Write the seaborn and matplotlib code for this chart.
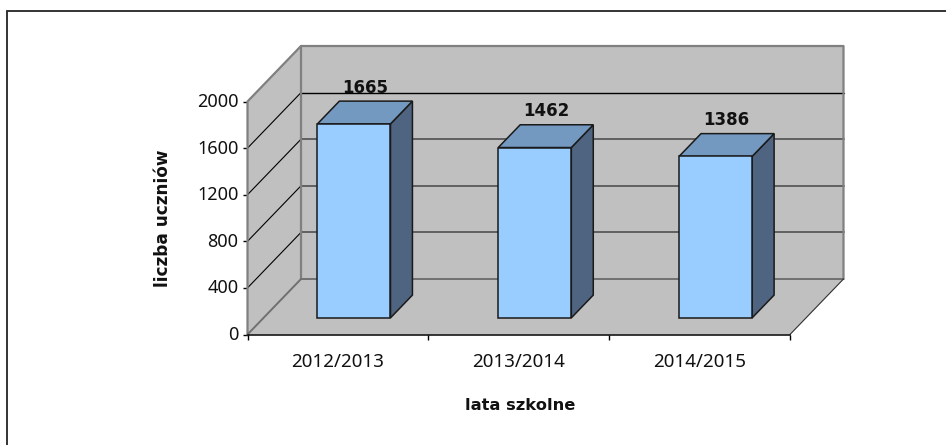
import matplotlib
matplotlib.use("Agg")
import matplotlib.pyplot as plt
import matplotlib.transforms as mtransforms
import seaborn as sns

years = ["2012/2013", "2013/2014", "2014/2015"]
pupils = [1665, 1462, 1386]
y_ticks = [0, 400, 800, 1200, 1600, 2000]

WALL = "#C0C0C0"
FRONT = "#99CCFF"
TOP = "#7399C0"
SIDE = "#4F6480"
EDGE = "#808080"

sns.set_theme(style="white")
plt.rcParams["font.family"] = ["Noto Sans", "DejaVu Sans"]

fig = plt.figure(figsize=(9.46, 4.45), dpi=100)
ax = fig.add_axes([247.5 / 946, (445 - 334.5) / 445, 542.5 / 946, 233 / 445])

# depth of the fake 3d box in data units
xmin, xmax = -0.5, 2.5
ymin, ymax = 0, 2000
box_x = 53.5 / 542.5 * (xmax - xmin)
box_y = 55.5 / 233 * (ymax - ymin)

# walls and floor
ax.fill([xmin, xmin + box_x, xmin + box_x, xmin],
        [ymin, ymin + box_y, ymax + box_y, ymax],
        facecolor=WALL, edgecolor="none", clip_on=False, zorder=1)
ax.fill([xmin + box_x, xmax + box_x, xmax + box_x, xmin + box_x],
        [ymin + box_y, ymin + box_y, ymax + box_y, ymax + box_y],
        facecolor=WALL, edgecolor="none", clip_on=False, zorder=1)
ax.fill([xmin, xmax, xmax + box_x, xmin + box_x],
        [ymin, ymin, ymin + box_y, ymin + box_y],
        facecolor=WALL, edgecolor="none", clip_on=False, zorder=1)

# gridlines run along the side wall and then the back wall
for t in y_ticks[1:-1]:
    ax.plot([xmin, xmin + box_x], [t, t + box_y], color="black", lw=0.8, clip_on=False, zorder=2)
    if t == 1600:
        ax.plot([xmin + box_x, xmax + box_x], [t + box_y, t + box_y], color="black", lw=1, clip_on=False, zorder=2)
    else:
        ax.plot([xmin + box_x, xmax + box_x], [t + box_y, t + box_y], color="#606060", lw=1.4, clip_on=False, zorder=2)

# box outline
ax.plot([xmin, xmin, xmin + box_x, xmax + box_x, xmax + box_x],
        [ymin, ymax, ymax + box_y, ymax + box_y, ymin + box_y],
        color=EDGE, lw=1.6, clip_on=False, zorder=3)
ax.plot([xmin + box_x, xmin + box_x], [ymin + box_y, ymax + box_y], color=EDGE, lw=1.6, clip_on=False, zorder=3)
ax.plot([xmin, xmin + box_x, xmax + box_x], [ymin, ymin + box_y, ymin + box_y],
        color="#707070", lw=1.4, clip_on=False, zorder=3)
ax.plot([xmax, xmax + box_x], [ymin, ymin + box_y], color="#303030", lw=0.8, clip_on=False, zorder=3)

sns.barplot(x=years, y=pupils, color=FRONT, saturation=1, width=0.404,
            edgecolor="#1a1a1a", linewidth=1.1, ax=ax, zorder=5)

# bars stand a bit back from the front edge
gap_x = 0.3 * box_x
gap_y = 0.3 * box_y
bar_x = 0.41 * box_x
bar_y = 0.41 * box_y
for bar, v in zip(ax.containers[0], pupils):
    bar.set_x(bar.get_x() + gap_x)
    bar.set_y(gap_y)
    bar.set_clip_on(False)
    x0 = bar.get_x()
    x1 = x0 + bar.get_width()
    y0 = gap_y
    y1 = gap_y + v
    ax.fill([x1, x1 + bar_x, x1 + bar_x, x1],
            [y0, y0 + bar_y, y1 + bar_y, y1],
            facecolor=SIDE, edgecolor="#1a1a1a", lw=1.1, clip_on=False, zorder=4)
    ax.fill([x0, x1, x1 + bar_x, x0 + bar_x],
            [y1, y1, y1 + bar_y, y1 + bar_y],
            facecolor=TOP, edgecolor="#1a1a1a", lw=1.1, clip_on=False, zorder=4)
    ax.annotate(str(v), ((x0 + x1) / 2, y1), xytext=(8, 26), textcoords="offset points",
                ha="center", va="center", fontsize=12, fontweight="bold", family="DejaVu Sans",
                color="#111111", annotation_clip=False, zorder=6)

ax.set_xlim(xmin, xmax)
ax.set_ylim(ymin, ymax)
ax.set_yticks(y_ticks)
ax.set_xticks([-0.5, 0.5, 1.5, 2.5], minor=False)
ax.set_xticklabels([])
ax.set_xticks([0, 1, 2], labels=years, minor=True)
ax.tick_params(axis="x", which="major", length=3.6, width=1, color="black", bottom=True)
ax.tick_params(axis="x", which="minor", length=0, pad=13, labelsize=13.5, labelcolor="#111111")
ax.tick_params(axis="y", length=3.6, width=1, color="black", left=True, pad=3, labelsize=13, labelcolor="#111111")

# y labels sit a little above their ticks
for label in ax.get_yticklabels():
    label.set_transform(label.get_transform() + mtransforms.Affine2D().translate(0, 1.5))

sns.despine(ax=ax, top=True, right=True)
ax.spines["left"].set_visible(False)
ax.spines["bottom"].set_color("black")
ax.spines["bottom"].set_linewidth(1.1)
ax.spines["bottom"].set_zorder(4)

ax.set_xlabel("lata szkolne", fontsize=11.7, fontweight="bold", family="DejaVu Sans", color="#111111")
ax.xaxis.set_label_coords(0.503, -0.305)
ax.xaxis.label.set_va("center")
ax.set_ylabel("liczba uczniów", fontsize=12.2, fontweight="bold", family="DejaVu Sans", color="#111111")
ax.yaxis.set_label_coords(-0.155, 0.5)
ax.yaxis.label.set_va("center")

# chart frame, cut off at the right and bottom of the picture
fig.add_artist(plt.Line2D([7 / 946, 7 / 946], [0, 1 - 11 / 445], color="#333333", lw=1.4))
fig.add_artist(plt.Line2D([7 / 946, 1], [1 - 11 / 445, 1 - 11 / 445], color="#333333", lw=1.4))

fig.savefig("out.png", dpi=100, facecolor="white")
